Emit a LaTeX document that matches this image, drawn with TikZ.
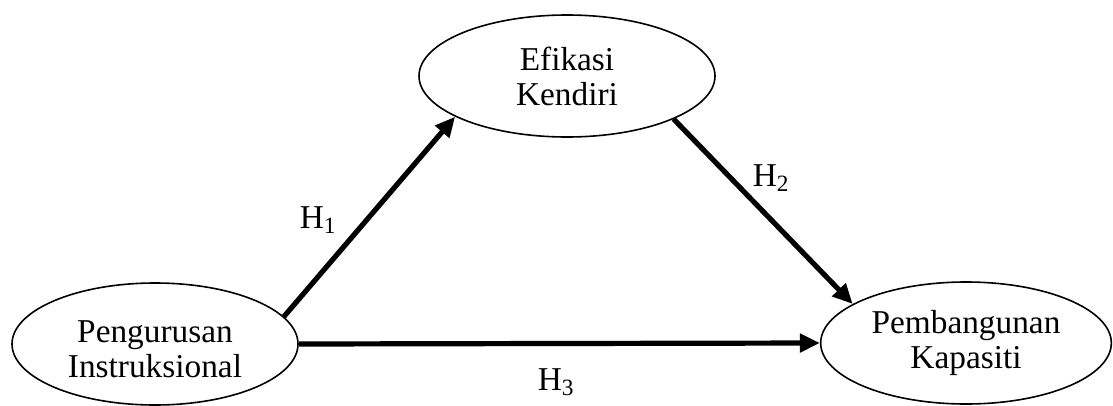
\documentclass[tikz,border=0pt]{standalone}
\usepackage{fontspec}
\setmainfont{Liberation Serif}
\usepackage{tikz}
\usetikzlibrary{
    arrows.meta,
    shapes.geometric
}

\tikzset{
    construct/.style={ellipse, draw, line width=1.2pt, inner sep=0pt,
        minimum width=218pt, minimum height=91.5pt, align=center,
        font=\fontsize{25}{26.25}\selectfont},
    hypo/.style={line width=3.9pt, -{Triangle[length=15pt,width=13.5pt]}},
    hlabel/.style={font=\fontsize{25}{26.25}\selectfont}
}

\begin{document}
\begin{tikzpicture}[x=0.75pt, y=0.75pt]
\useasboundingbox (0,0) rectangle (1113,405);

% Constructs
\node[construct, minimum width=222pt] (ek) at (567,329) {Efikasi\\Kendiri};
\node[construct, minimum width=214.5pt, text height=50pt] (pi) at (155,61) {Pengurusan\\Instruksional};
\node[construct] (pk) at (966,62) {Pembangunan\\Kapasiti};

% Hypotheses
\draw[hypo] (pi.12.4) -- (ek.200);
\draw[hypo] (ek.338) -- (pk.161.6);
\draw[hypo] (pi.east) -- (pk.west);

% Labels
\node[hlabel] (h1) at (318,185) {H\textsubscript{1}};
\node[hlabel] (h2) at (771,227) {H\textsubscript{2}};
\node[hlabel] (h3) at (556,23) {H\textsubscript{3}};
\end{tikzpicture}
\end{document}
